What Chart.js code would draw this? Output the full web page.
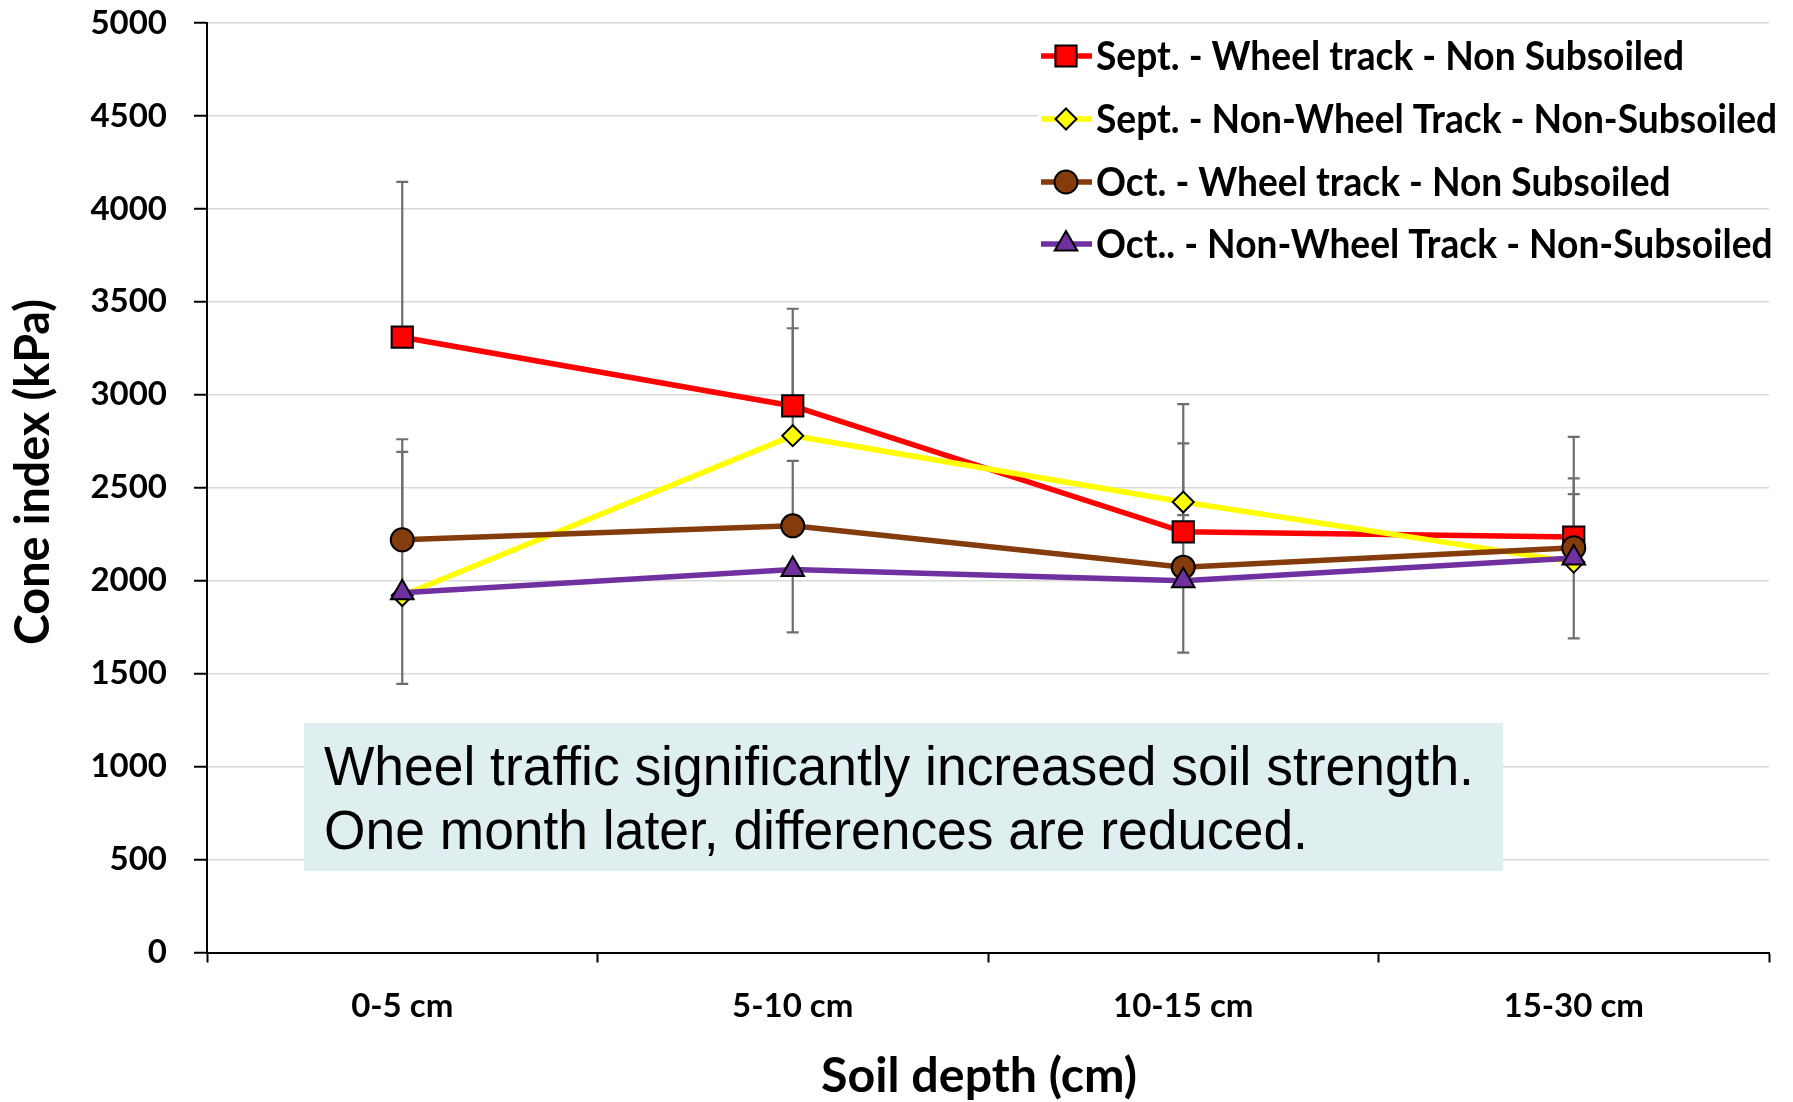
<!DOCTYPE html>
<html>
<head>
<meta charset="utf-8">
<title>Cone index by soil depth</title>
<script src="https://cdn.jsdelivr.net/npm/chart.js@4.4.1/dist/chart.umd.min.js"></script>
<style>
    html, body { margin: 0; padding: 0; background: #fff; }
    #wrap { position: relative; width: 1793px; height: 1102px; }
    #note {
        position: absolute; left: 304px; top: 723px; width: 1199px; height: 148px;
        background: #dfefef; box-sizing: border-box; padding: 11px 0 0 20px;
    }
    #note div {
        font-family: "Liberation Sans", Arial, sans-serif; font-size: 56px; line-height: 64px;
        color: #000; white-space: nowrap; transform: scaleX(0.953); transform-origin: 0 0;
    }
</style>
</head>
<body>
<div id="wrap">
    <canvas id="coneChart" width="1793" height="1102"></canvas>
    <div id="note"><div>Wheel traffic significantly increased soil strength.<br>One month later, differences are reduced.</div></div>
</div>
<script>
// --- DATA ---
const depthLabels = ['0-5 cm', '5-10 cm', '10-15 cm', '15-30 cm'];
const seriesNames = [
    'Sept. - Wheel track - Non Subsoiled',
    'Sept. - Non-Wheel Track - Non-Subsoiled',
    'Oct. - Wheel track - Non Subsoiled',
    'Oct.. - Non-Wheel Track - Non-Subsoiled'
];
const septWheel    = [3310, 2940, 2263, 2235];
const septNonWheel = [1920, 2780, 2423, 2100];
const octWheel     = [2220, 2295, 2073, 2177];
const octNonWheel  = [1935, 2060, 2000, 2122];

// error bars (kPa), plus / minus
const septWheelPlus    = [835, 523, 476, 539];
const septNonWheelPlus = [773, 578, 527, 450];
const octWheelPlus     = [541, 350, 280, 289];
const octNonWheelMinus = [490, 338, 387, 432];
const noErr = [0, 0, 0, 0];

const yTicks = { min: 0, max: 5000, step: 500 };
const xTitle = 'Soil depth (cm)';
const yTitle = 'Cone index (kPa)';

const humanist = "Lato, 'Open Sans', sans-serif";

// text squeezed to a given width (Calibri-like look)
function fitText(ctx, text, x, y, width, rot) {
    const sx = width / ctx.measureText(text).width;
    ctx.save();
    ctx.translate(x, y);
    if (rot) ctx.rotate(rot);
    ctx.scale(sx, 1);
    ctx.fillText(text, 0, 0);
    ctx.restore();
    return sx;
}

// --- PLUGINS ---
const errorBars = {
    id: 'errorBars',
    beforeDatasetsDraw(chart) {
        const ctx = chart.ctx;
        const y = chart.scales.y;
        ctx.save();
        ctx.strokeStyle = '#6e6e6e';
        ctx.lineWidth = 2.2;
        chart.data.datasets.forEach((ds, i) => {
            const meta = chart.getDatasetMeta(i);
            meta.data.forEach((pt, j) => {
                const v = ds.data[j];
                const up = ds.errPlus[j], dn = ds.errMinus[j];
                const top = y.getPixelForValue(v + up);
                const bot = y.getPixelForValue(v - dn);
                ctx.beginPath();
                ctx.moveTo(pt.x, top);
                ctx.lineTo(pt.x, bot);
                if (up) { ctx.moveTo(pt.x - 6, top); ctx.lineTo(pt.x + 6, top); }
                if (dn) { ctx.moveTo(pt.x - 6, bot); ctx.lineTo(pt.x + 6, bot); }
                ctx.stroke();
            });
        });
        ctx.restore();
    }
};

const titlesAndLegend = {
    id: 'titlesAndLegend',
    afterDraw(chart) {
        const ctx = chart.ctx;
        const area = chart.chartArea;
        ctx.save();
        ctx.fillStyle = '#000';
        ctx.textAlign = 'center';
        ctx.textBaseline = 'middle';
        ctx.font = 'bold 48px ' + humanist;
        fitText(ctx, xTitle, (area.left + area.right) / 2 - 9, 1077, 316, 0);
        fitText(ctx, yTitle, 34, 472, 346, -Math.PI / 2);

        // legend
        const rows = [56, 119, 182, 244];
        ctx.textAlign = 'left';
        ctx.font = 'bold 40px ' + humanist;
        const sx = 588 / ctx.measureText(seriesNames[0]).width;
        chart.data.datasets.forEach((ds, i) => {
            const yy = rows[i];
            const w = ctx.measureText(ds.label).width * sx;
            ctx.fillStyle = '#fff';
            ctx.fillRect(1038, yy - 21, w + 62, 42);
            ctx.strokeStyle = ds.borderColor;
            ctx.lineWidth = ds.borderWidth;
            ctx.beginPath();
            ctx.moveTo(1041, yy);
            ctx.lineTo(1092, yy);
            ctx.stroke();
            ctx.fillStyle = ds.pointBackgroundColor;
            ctx.strokeStyle = '#000';
            ctx.lineWidth = 2;
            Chart.helpers.drawPoint(ctx, { pointStyle: ds.pointStyle, radius: ds.pointRadius, rotation: 0, borderWidth: 2 }, 1066, yy);
            ctx.fillStyle = '#000';
            ctx.save();
            ctx.translate(1096, yy + 1);
            ctx.scale(sx, 1);
            ctx.fillText(ds.label, 0, 0);
            ctx.restore();
        });
        ctx.restore();
    }
};

// --- CHART ---
function series(label, data, color, style, radius, plus, minus, order) {
    return {
        label: label, data: data, borderColor: color, borderWidth: 5.5,
        pointStyle: style, pointRadius: radius, pointHoverRadius: radius,
        pointBackgroundColor: color, pointBorderColor: '#000', pointBorderWidth: 2,
        tension: 0, fill: false, errPlus: plus, errMinus: minus, order: order
    };
}

new Chart(document.getElementById('coneChart'), {
    type: 'line',
    data: {
        labels: depthLabels,
        datasets: [
            series(seriesNames[0], septWheel, '#ff0000', 'rect', 15, septWheelPlus, noErr, 4),
            series(seriesNames[1], septNonWheel, '#ffff00', 'rectRot', 10.5, septNonWheelPlus, noErr, 3),
            series(seriesNames[2], octWheel, '#843c0c', 'circle', 11.5, octWheelPlus, noErr, 2),
            series(seriesNames[3], octNonWheel, '#7030a0', 'triangle', 13, noErr, octNonWheelMinus, 1)
        ]
    },
    options: {
        responsive: false,
        animation: false,
        devicePixelRatio: 1,
        layout: { padding: { top: 23, right: 24, left: 0, bottom: 0 } },
        plugins: { legend: { display: false }, tooltip: { enabled: false } },
        scales: {
            x: {
                offset: true,
                grid: { offset: true, drawOnChartArea: false, drawTicks: true, tickLength: 10, tickColor: '#000', tickWidth: 2 },
                border: { color: '#000', width: 2 },
                ticks: { color: '#000', padding: 24, font: { family: humanist, size: 33, weight: 'bold' } },
                afterFit: s => { s.height = 149.5; }
            },
            y: {
                min: yTicks.min, max: yTicks.max,
                grid: { color: '#d9d9d9', lineWidth: 1.5, tickLength: 13, tickColor: '#000', tickWidth: 2 },
                border: { color: '#000', width: 2 },
                ticks: { stepSize: yTicks.step, color: '#000', padding: 27, callback: v => String(v),
                         font: { family: humanist, size: 33, weight: 'bold' } },
                afterFit: s => { s.width = 207; s.paddingTop = 0; s.paddingBottom = 0; }
            }
        }
    },
    plugins: [errorBars, titlesAndLegend]
});
</script>
</body>
</html>
